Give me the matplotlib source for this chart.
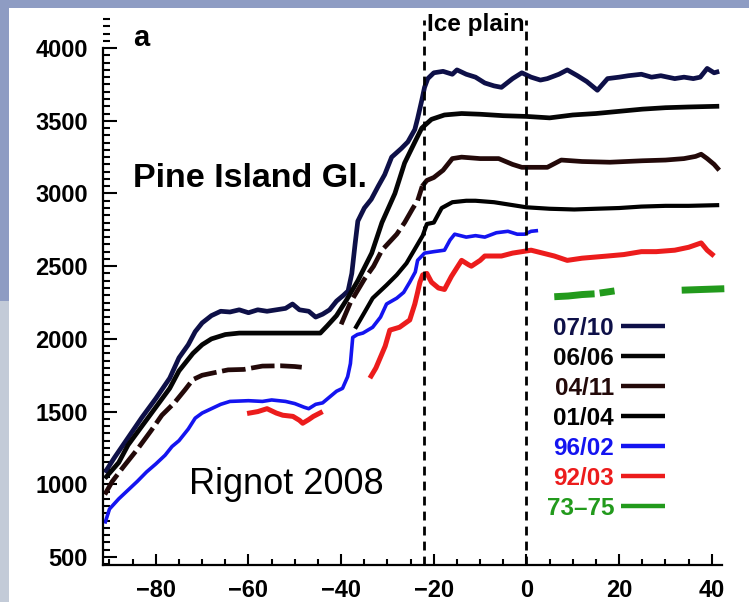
import matplotlib
matplotlib.use("Agg")
import matplotlib.pyplot as plt
from matplotlib.lines import Line2D
from matplotlib.patches import Rectangle
from matplotlib.ticker import MultipleLocator

plt.rcParams['font.family'] = ['Liberation Sans', 'DejaVu Sans']

# speed (m/yr) along the flowline, distance (km) from the grounding line
v_0710 = [(-91, 1080), (-89, 1180), (-86, 1320), (-83, 1460), (-80, 1590), (-77, 1730),
          (-75, 1870), (-73, 1960), (-71.5, 2050), (-70, 2110), (-68, 2160), (-66, 2190),
          (-64, 2185), (-62, 2200), (-60, 2180), (-58, 2200), (-56, 2190), (-54, 2200),
          (-52, 2210), (-50.5, 2240), (-49, 2200), (-47, 2190), (-45.5, 2150), (-44, 2170),
          (-42.5, 2200), (-41, 2260), (-39.5, 2300), (-38.5, 2330), (-37.7, 2450),
          (-37, 2650), (-36.4, 2810), (-35, 2900), (-33.5, 2960), (-32, 3050), (-30.6, 3130),
          (-29.1, 3250), (-28.4, 3270), (-27, 3310), (-25.6, 3355), (-24.1, 3440),
          (-23.5, 3515), (-22.6, 3640), (-22, 3730), (-21.3, 3790), (-20, 3830), (-18, 3840),
          (-16, 3820), (-15, 3850), (-13, 3820), (-11, 3800), (-9, 3760), (-7, 3740),
          (-5.4, 3730), (-3, 3790), (-1, 3830), (1, 3800), (3, 3780), (4.5, 3790), (7, 3820),
          (8.8, 3850), (11, 3810), (13, 3770), (15.3, 3710), (17.5, 3790), (20, 3800),
          (22, 3810), (24.8, 3820), (27, 3800), (29, 3810), (32, 3790), (34, 3800), (36, 3790),
          (37.5, 3800), (39, 3860), (40.5, 3830), (41.6, 3840)]

v_0606 = [(-91, 1040), (-88, 1150), (-86, 1270), (-83, 1400), (-80, 1530), (-77, 1660),
          (-75, 1780), (-72, 1900), (-70, 1960), (-68, 2000), (-65, 2030), (-62, 2040),
          (-55, 2040), (-50, 2040), (-44.5, 2040), (-43, 2090), (-41, 2160), (-38.8, 2270),
          (-36.4, 2400), (-33.4, 2590), (-31.2, 2800), (-28.4, 3000), (-26.3, 3210),
          (-24, 3360), (-22.6, 3450), (-20.5, 3510), (-17.7, 3540), (-14, 3550), (-10, 3545),
          (-5, 3535), (0, 3530), (5, 3520), (10, 3540), (15, 3550), (20, 3565), (25, 3580),
          (30, 3590), (35, 3595), (41.6, 3600)]

v_0411_a = [(-91, 930), (-89.4, 1020), (-87, 1120), (-84, 1240), (-81, 1370), (-78.7, 1475),
            (-76, 1560), (-73.7, 1650), (-72, 1720), (-70, 1750), (-67, 1770), (-64.4, 1787),
            (-61, 1790), (-57, 1813), (-53, 1815), (-50, 1810), (-48.5, 1805)]
v_0411_b = [(-40, 2100), (-38, 2250), (-35, 2410), (-33, 2500), (-31.2, 2610), (-28, 2720),
            (-26.3, 2800), (-24.5, 2900), (-23.5, 2950), (-22.5, 3050)]
v_0411_c = [(-22.5, 3050), (-21.5, 3090),
            (-20, 3110), (-18, 3160), (-16, 3240), (-14, 3250), (-10, 3240), (-6, 3240),
            (-3, 3200), (-1, 3180), (2, 3180), (4.5, 3180), (7.5, 3230), (12, 3220),
            (18, 3215), (25, 3225), (30, 3230), (34, 3240), (36.5, 3255), (37.7, 3270),
            (39, 3240), (40.5, 3200), (41.6, 3160)]

v_0104 = [(-37, 2070), (-35, 2180), (-33.2, 2280), (-30.2, 2370), (-28, 2440), (-25.9, 2520),
          (-23.5, 2650), (-22.4, 2710), (-21.5, 2790), (-20, 2800), (-18.3, 2900),
          (-16, 2940), (-13, 2950), (-11, 2950), (-7, 2940), (-3, 2920), (0, 2905), (5, 2895),
          (10.3, 2890), (15, 2895), (20, 2900), (24.8, 2910), (30, 2915), (35, 2915),
          (41.6, 2920)]

v_9602 = [(-91, 730), (-90, 830), (-88, 900), (-86, 960), (-84, 1020), (-82, 1085),
          (-80, 1140), (-78, 1200), (-76.5, 1260), (-75, 1300), (-73, 1380), (-71.5, 1455),
          (-70, 1490), (-68, 1520), (-66, 1550), (-64, 1570), (-60, 1575), (-57, 1570),
          (-55, 1580), (-52, 1570), (-50, 1555), (-48, 1530), (-47, 1520), (-45.5, 1550),
          (-44, 1560), (-42.5, 1600), (-41, 1640), (-39.7, 1660), (-38.6, 1740), (-38, 1830),
          (-37.5, 2010), (-36.5, 2030), (-35.3, 2040), (-33.2, 2080), (-31.5, 2150),
          (-30.2, 2240), (-28, 2280), (-26.5, 2320), (-25.2, 2390), (-24, 2460),
          (-23.5, 2540), (-22, 2590), (-20, 2600), (-17.7, 2610), (-16.5, 2680),
          (-15.5, 2720), (-13, 2700), (-11, 2710), (-9, 2700), (-6.5, 2730), (-4, 2740),
          (-2, 2720), (-0.4, 2720), (1, 2740), (2.5, 2745)]

v_9203_a = [(-60.3, 1487), (-58, 1500), (-56, 1520), (-54, 1490), (-52.6, 1475),
            (-50.4, 1467), (-49, 1440), (-48.3, 1420), (-47, 1445), (-46, 1467), (-44, 1500)]
v_9203_b = [(-33.8, 1730), (-32.5, 1800), (-31.7, 1860), (-30.5, 1950), (-29.5, 2060),
            (-27.4, 2080), (-25.2, 2130), (-24.1, 2240), (-23.5, 2320), (-23, 2390),
            (-22.4, 2440), (-21.5, 2450), (-20.5, 2390), (-19, 2350), (-17.7, 2340),
            (-16.2, 2430), (-14, 2540), (-12.5, 2510), (-11.9, 2500), (-10, 2540), (-9, 2570),
            (-5.4, 2570), (-3, 2590), (-1, 2600), (1, 2610), (3.5, 2590), (6, 2570),
            (8.8, 2540), (12, 2555), (17.5, 2570), (21, 2580), (24.8, 2600), (28, 2600),
            (32, 2610), (35, 2630), (37.7, 2660), (39, 2610), (40.5, 2570)]

v_7375_a = [(6, 2290), (9, 2295), (12, 2305), (14.7, 2310)]
v_7375_b = [(15.8, 2315), (19, 2330)]
v_7375_c = [(33.5, 2335), (38, 2340), (42.7, 2345)]

labels = ['07/10', '06/06', '04/11', '01/04', '96/02', '92/03', '73\u201375']
colors = ['#0e1048', '#050505', '#230909', '#000000', '#1414f0', '#ec1c1c', '#229a1c']
segments = [[v_0710], [v_0606], [v_0411_a, v_0411_b, v_0411_c], [v_0104], [v_9602],
            [v_9203_a, v_9203_b], [v_7375_a, v_7375_b, v_7375_c]]
widths = [3.4, 3.4, 3.4, 3.0, 2.6, 3.6, 5.0]

ice_plain = [-22.2, 0]

fig = plt.figure(figsize=(7.49, 6.02), dpi=100)
fig.patch.set_facecolor('#8e9cc3')
fig.add_artist(Rectangle((0, 0), 9 / 749, 0.5, transform=fig.transFigure,
                         facecolor='#c3cbd8', edgecolor='none', zorder=-2))
fig.add_artist(Rectangle((9 / 749, 0), 1, 1 - 8 / 602, transform=fig.transFigure,
                         facecolor='white', edgecolor='none', zorder=-1))

ax = fig.add_axes([103 / 749, 1 - 565 / 602, 619 / 749, 546 / 602])
ax.set_facecolor('none')

for segs, c, lw in zip(segments, colors, widths):
    for s in segs:
        xs = [p[0] for p in s]
        ys = [p[1] for p in s]
        # the 04/11 profile is broken (dashed) where it is steep
        ls = (0, (5, 1.2)) if (s is v_0411_a or s is v_0411_b) else '-'
        ax.plot(xs, ys, color=c, lw=lw, ls=ls, solid_capstyle='butt', clip_on=False)

ax.vlines(ice_plain, 445, 4190, colors='black', lw=2, linestyles=(0, (3.2, 2.2)))

ax.set_xlim(-91.4, 42.2)
ax.set_ylim(445, 4200)
ax.spines['top'].set_visible(False)
ax.spines['right'].set_visible(False)
ax.spines['left'].set_bounds(445, 4000)
ax.spines['left'].set_linewidth(1.6)
ax.spines['bottom'].set_linewidth(1.6)

ax.set_xticks([-80, -60, -40, -20, 0, 20, 40])
ax.set_yticks([500, 1000, 1500, 2000, 2500, 3000, 3500, 4000])
ax.xaxis.set_minor_locator(MultipleLocator(5))
ax.yaxis.set_minor_locator(MultipleLocator(50))
ax.tick_params(which='both', direction='in', width=1.5, colors='black')
ax.tick_params(axis='y', which='major', length=10, pad=11)
ax.tick_params(axis='y', which='minor', length=5)
ax.tick_params(axis='x', which='major', length=8, pad=10)
ax.tick_params(axis='x', which='minor', length=4)
for lab in ax.get_xticklabels() + ax.get_yticklabels():
    lab.set_fontsize(17)
    lab.set_fontweight('bold')

ax.text(-84.8, 4070, 'a', fontsize=21, fontweight='bold', ha='left', va='center')
ax.text(-85, 3100, 'Pine Island Gl.', fontsize=24.5, fontweight='bold', ha='left', va='center')
ax.text(-21.4, 4160, 'Ice plain', fontsize=17.5, fontweight='bold', ha='left', va='center')
ax.text(-72.8, 1000, 'Rignot 2008', fontsize=26, ha='left', va='center')

handles = [Line2D([], [], color=c, lw=3.2, ls='-', solid_capstyle='butt') for c in colors]
ax.legend(handles, labels, loc='upper right', bbox_to_anchor=(0.908, 0.455),
          frameon=False, markerfirst=False, labelcolor=colors,
          prop={'weight': 'bold', 'size': 17.5}, handlelength=1.8,
          handletextpad=0.3, labelspacing=0.29, borderpad=0, borderaxespad=0)

fig.savefig('out.png', dpi=100, facecolor=fig.get_facecolor())
